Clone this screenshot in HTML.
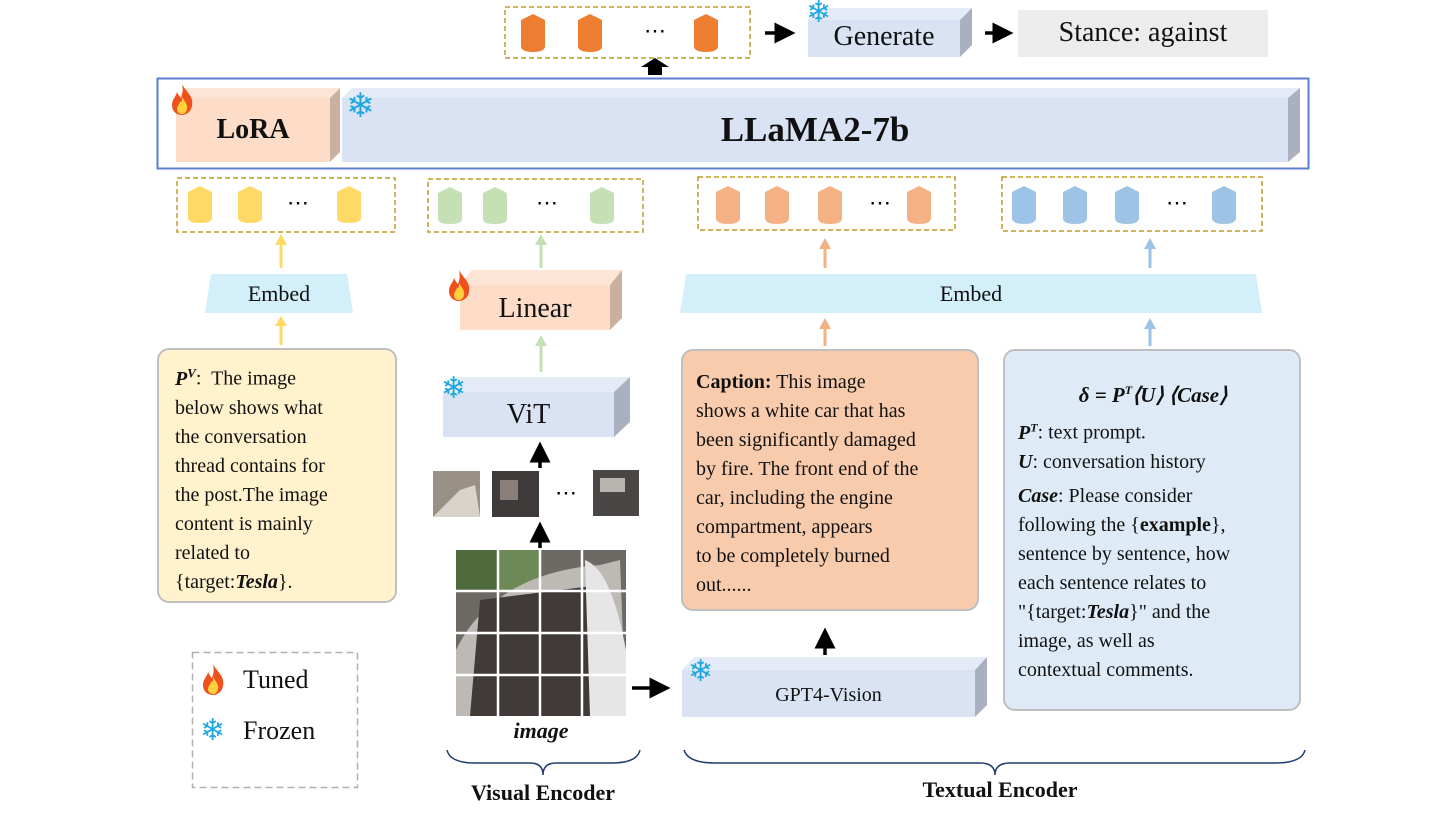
<!DOCTYPE html>
<html><head><meta charset="utf-8"><style>
body{margin:0;background:#fff;}
#c{position:relative;width:1445px;height:813px;overflow:hidden;font-family:"Liberation Serif",serif;color:#111;}
.t{position:absolute;white-space:nowrap;}
.box{position:absolute;box-sizing:border-box;}
.txt{font-size:20px;line-height:29px;}
.sf{position:absolute;color:#1fa8e0;font-size:30px;line-height:30px;font-family:"DejaVu Sans",sans-serif;font-weight:bold;}
</style></head><body><div id="c">
<svg width="1445" height="813" style="position:absolute;left:0;top:0">
<defs>
<g id="flame"><path d="M10,0 C14,8 22,12 20,22 C19,28 14,31 10,31 C4,31 0,27 0,21 C0,15 4,13 5,8 C7,12 8,13 9,14 C11,9 11,5 10,0Z" fill="#f0501e"/><path d="M10,13 C13,18 16,21 15,25 C14,29 12,30 10,30 C7,30 5,28 5,25 C5,22 8,20 8,17 C9,19 10,19 10,13Z" fill="#ffd23c"/></g>
<marker id="ab" markerWidth="6" markerHeight="6" refX="3" refY="3" orient="auto" markerUnits="strokeWidth"><path d="M0,0 L6,3 L0,6Z" fill="#000"/></marker>
</defs>
<rect x="505" y="7" width="245" height="51" fill="none" stroke="#c09a2a" stroke-width="1.5" stroke-dasharray="5,3"/>
<g fill="#ed7d31">
<path d="M521,20 L533,14 L545,20 V46 Q545,52 533,52 Q521,52 521,46Z"/>
<path d="M578,20 L590,14 L602,20 V46 Q602,52 590,52 Q578,52 578,46Z"/>
<path d="M694,20 L706,14 L718,20 V46 Q718,52 706,52 Q694,52 694,46Z"/>
</g>
<text x="655" y="38" font-size="22" text-anchor="middle" font-family="Liberation Serif">⋯</text>
<line x1="765" y1="33" x2="785" y2="33" stroke="#000" stroke-width="3.5" marker-end="url(#ab)"/>
<line x1="985" y1="33" x2="1003" y2="33" stroke="#000" stroke-width="3.5" marker-end="url(#ab)"/>
<polygon points="808,20 820,8 972,8 960,20" fill="#e4eaf6"/>
<polygon points="960,20 972,8 972,45 960,57" fill="#aab0bf"/>
<rect x="808" y="20" width="152" height="37" fill="#dae3f3"/>
<rect x="1018" y="10" width="250" height="47" fill="#ececec"/>
<path d="M648,75 V67 H641 L655,58 L669,67 H662 V75Z" fill="#000"/>
<rect x="157.5" y="78.5" width="1151" height="90" fill="none" stroke="#5b7fcf" stroke-width="2"/>
<polygon points="176,98 186,88 340,88 330,98" fill="#fde5d6"/>
<polygon points="330,98 340,88 340,152 330,162" fill="#c9b0a0"/>
<rect x="176" y="98" width="154" height="64" fill="#fddcc8"/>
<polygon points="342,98 352,88 1300,88 1288,98" fill="#e4eaf6"/>
<polygon points="1288,98 1300,88 1300,152 1288,162" fill="#aab0bf"/>
<rect x="342" y="98" width="946" height="64" fill="#dae3f3"/>
<g fill="none" stroke="#c09a2a" stroke-width="1.5" stroke-dasharray="5,3">
<rect x="177" y="178" width="218" height="54"/><rect x="428" y="179" width="215" height="53"/>
<rect x="698" y="177" width="257" height="53"/><rect x="1002" y="177" width="260" height="54"/>
</g>
<g fill="#ffd966">
<path d="M188,192 L200,186 L212,192 V218 Q212,223 200,223 Q188,223 188,218Z"/>
<path d="M238,192 L250,186 L262,192 V218 Q262,223 250,223 Q238,223 238,218Z"/>
<path d="M337,192 L349,186 L361,192 V218 Q361,223 349,223 Q337,223 337,218Z"/></g>
<g fill="#c5e0b4">
<path d="M438,193 L450,187 L462,193 V219 Q462,224 450,224 Q438,224 438,219Z"/>
<path d="M483,193 L495,187 L507,193 V219 Q507,224 495,224 Q483,224 483,219Z"/>
<path d="M590,193 L602,187 L614,193 V219 Q614,224 602,224 Q590,224 590,219Z"/></g>
<g fill="#f4b183">
<path d="M716,192 L728,186 L740,192 V218 Q740,224 728,224 Q716,224 716,218Z"/>
<path d="M765,192 L777,186 L789,192 V218 Q789,224 777,224 Q765,224 765,218Z"/>
<path d="M818,192 L830,186 L842,192 V218 Q842,224 830,224 Q818,224 818,218Z"/>
<path d="M907,192 L919,186 L931,192 V218 Q931,224 919,224 Q907,224 907,218Z"/></g>
<g fill="#9dc3e6">
<path d="M1012,192 L1024,186 L1036,192 V218 Q1036,224 1024,224 Q1012,224 1012,218Z"/>
<path d="M1063,192 L1075,186 L1087,192 V218 Q1087,224 1075,224 Q1063,224 1063,218Z"/>
<path d="M1115,192 L1127,186 L1139,192 V218 Q1139,224 1127,224 Q1115,224 1115,218Z"/>
<path d="M1212,192 L1224,186 L1236,192 V218 Q1236,224 1224,224 Q1212,224 1212,218Z"/></g>
<g font-size="22" text-anchor="middle" font-family="Liberation Serif"><text x="298" y="210">⋯</text><text x="547" y="210">⋯</text><text x="880" y="210">⋯</text><text x="1177" y="210">⋯</text></g>
<g stroke-width="3">
<line x1="281" y1="268" x2="281" y2="244" stroke="#ffd966"/><path d="M275,245 L281,234 L287,245Z" fill="#ffd966"/>
<line x1="281" y1="345" x2="281" y2="325" stroke="#ffd966"/><path d="M275,326 L281,316 L287,326Z" fill="#ffd966"/>
<line x1="541" y1="268" x2="541" y2="244" stroke="#c5e0b4"/><path d="M535,245 L541,234 L547,245Z" fill="#c5e0b4"/>
<line x1="541" y1="372" x2="541" y2="345" stroke="#c5e0b4"/><path d="M535,346 L541,335 L547,346Z" fill="#c5e0b4"/>
<line x1="825" y1="268" x2="825" y2="248" stroke="#f4b183"/><path d="M819,249 L825,238 L831,249Z" fill="#f4b183"/>
<line x1="825" y1="346" x2="825" y2="328" stroke="#f4b183"/><path d="M819,329 L825,318 L831,329Z" fill="#f4b183"/>
<line x1="1150" y1="268" x2="1150" y2="248" stroke="#9dc3e6"/><path d="M1144,249 L1150,238 L1156,249Z" fill="#9dc3e6"/>
<line x1="1150" y1="346" x2="1150" y2="328" stroke="#9dc3e6"/><path d="M1144,329 L1150,318 L1156,329Z" fill="#9dc3e6"/>
</g>
<polygon points="211,274 347,274 353,313 205,313" fill="#d3effa"/>
<polygon points="686,274 1256,274 1262,313 680,313" fill="#d3effa"/>
<polygon points="460,285 472,270 622,270 610,285" fill="#fde5d6"/>
<polygon points="610,285 622,270 622,318 610,330" fill="#c9b0a0"/>
<rect x="460" y="285" width="150" height="45" fill="#fddcc8"/>
<polygon points="443,392 458,377 630,377 614,392" fill="#e4eaf6"/>
<polygon points="614,392 630,377 630,422 614,437" fill="#aab0bf"/>
<rect x="443" y="392" width="171" height="45" fill="#dae3f3"/>
<line x1="540" y1="468" x2="540" y2="452" stroke="#000" stroke-width="3.5" marker-end="url(#ab)"/>
<line x1="540" y1="548" x2="540" y2="532" stroke="#000" stroke-width="3.5" marker-end="url(#ab)"/>
<rect x="433" y="471" width="47" height="46" fill="#9a9186"/><path d="M433,517 L460,490 L475,485 L480,517Z" fill="#d8d4cc"/>
<rect x="492" y="471" width="47" height="46" fill="#3f3a3a"/><rect x="500" y="480" width="18" height="20" fill="#8a7e78"/>
<rect x="593" y="470" width="46" height="46" fill="#4a4646"/><rect x="600" y="478" width="25" height="14" fill="#b8b4b0"/>
<text x="566" y="500" font-size="22" text-anchor="middle" font-family="Liberation Serif">⋯</text>
<rect x="456" y="550" width="170" height="166" fill="#6d6a66"/>
<rect x="456" y="550" width="42" height="41" fill="#4f6a3c"/><rect x="498" y="550" width="42" height="41" fill="#6d8a56"/>
<path d="M456,650 C480,600 530,570 600,565 L620,560 L626,716 L456,716Z" fill="#bdbab5"/>
<path d="M480,600 L600,585 L600,716 L470,716Z" fill="#403b38"/>
<path d="M585,560 C610,570 620,620 626,650 L626,716 L590,716Z" fill="#e6e6e6"/>
<g stroke="#fff" stroke-width="2.5"><line x1="498" y1="550" x2="498" y2="716"/><line x1="540" y1="550" x2="540" y2="716"/><line x1="582" y1="550" x2="582" y2="716"/><line x1="456" y1="591" x2="626" y2="591"/><line x1="456" y1="633" x2="626" y2="633"/><line x1="456" y1="675" x2="626" y2="675"/></g>
<line x1="632" y1="688" x2="660" y2="688" stroke="#000" stroke-width="3.5" marker-end="url(#ab)"/>
<line x1="825" y1="655" x2="825" y2="638" stroke="#000" stroke-width="3.5" marker-end="url(#ab)"/>
<polygon points="682,670 694,657 987,657 975,670" fill="#e4eaf6"/>
<polygon points="975,670 987,657 987,705 975,717" fill="#aab0bf"/>
<rect x="682" y="670" width="293" height="47" fill="#dae3f3"/>
<path d="M447,750 Q450,763 475,763 L530,763 Q543,763 543,775 Q543,763 556,763 L612,763 Q637,763 640,750" fill="none" stroke="#1f3b70" stroke-width="1.5"/>
<path d="M684,750 Q688,763 715,763 L980,763 Q995,763 995,775 Q995,763 1010,763 L1275,763 Q1302,763 1305,750" fill="none" stroke="#1f3b70" stroke-width="1.5"/>
<rect x="192.5" y="652.5" width="165" height="135" fill="none" stroke="#b0b0b0" stroke-width="1.5" stroke-dasharray="7,4"/>
<use href="#flame" x="203" y="664"/>
<use href="#flame" x="172" y="84"/>
<use href="#flame" x="449" y="270"/>
</svg>

<div class="sf" style="left:806px;top:-2px">❄</div>
<div class="t" style="left:808px;top:18px;width:152px;text-align:center;font-size:28px;line-height:38px">Generate</div>
<div class="t" style="left:1018px;top:13px;width:250px;text-align:center;font-size:28px;line-height:40px">Stance: against</div>
<div class="t" style="left:176px;top:110px;width:154px;text-align:center;font-size:28px;font-weight:bold;line-height:40px">LoRA</div>
<div class="sf" style="left:346px;top:89px;font-size:34px;line-height:34px">❄</div>
<div class="t" style="left:342px;top:108px;width:946px;text-align:center;font-size:35px;font-weight:bold;line-height:44px">LLaMA2-7b</div>
<div class="t" style="left:205px;top:279px;width:148px;text-align:center;font-size:22px;line-height:30px">Embed</div>
<div class="t" style="left:680px;top:279px;width:582px;text-align:center;font-size:22px;line-height:30px">Embed</div>
<div class="t" style="left:460px;top:290px;width:150px;text-align:center;font-size:28px;line-height:38px">Linear</div>
<div class="sf" style="left:441px;top:374px">❄</div>
<div class="t" style="left:443px;top:396px;width:171px;text-align:center;font-size:28px;line-height:38px">ViT</div>
<div class="t" style="left:456px;top:718px;width:170px;text-align:center;font-size:22px;font-weight:bold;font-style:italic">image</div>
<div class="t" style="left:440px;top:780px;width:206px;text-align:center;font-size:22px;font-weight:bold">Visual Encoder</div>
<div class="t" style="left:880px;top:777px;width:240px;text-align:center;font-size:22px;font-weight:bold">Textual Encoder</div>
<div class="sf" style="left:688px;top:657px">❄</div>
<div class="t" style="left:682px;top:680px;width:293px;text-align:center;font-size:20px;line-height:30px">GPT4-Vision</div>
<div class="t" style="left:243px;top:665px;font-size:26px">Tuned</div>
<div class="sf" style="left:200px;top:716px">❄</div>
<div class="t" style="left:243px;top:716px;font-size:26px">Frozen</div>

<div class="box txt" style="left:157px;top:348px;width:240px;height:255px;background:#fff2cc;border:2px solid #bfbfbf;border-radius:12px;padding:8px 0 0 16px;white-space:nowrap">
<b><i>P<sup style="font-size:13px">V</sup></i></b>:&nbsp; The image<br>below shows what<br>the conversation<br>thread contains for<br>the post.The image<br>content is mainly<br>related to<br>{target:<b><i>Tesla</i></b>}.
</div>
<div class="box txt" style="left:681px;top:349px;width:298px;height:262px;background:#f8cbad;border:2px solid #bfbfbf;border-radius:12px;padding:17px 0 0 13px;white-space:nowrap">
<b>Caption:</b> This image<br>shows a white car that has<br>been significantly damaged<br>by fire. The front end of the<br>car, including the engine<br>compartment, appears<br>to be completely burned<br>out......
</div>
<div class="box txt" style="left:1003px;top:349px;width:298px;height:362px;background:#deebf7;border:2px solid #bfbfbf;border-radius:12px;padding:25px 0 0 13px;white-space:nowrap">
<div style="text-align:center;width:270px;font-weight:bold;font-style:italic;font-size:21px">δ = P<sup style="font-size:12px">T</sup>⟨U⟩ ⟨Case⟩</div>
<div style="margin-top:3px"><b><i>P<sup style="font-size:12px">T</sup></i></b>: text prompt.<br><b><i>U</i></b>: conversation history</div>
<div style="margin-top:5px"><b><i>Case</i></b>: Please consider<br>following the {<b>example</b>},<br>sentence by sentence, how<br>each sentence relates to<br>"{target:<b><i>Tesla</i></b>}" and the<br>image, as well as<br>contextual comments.</div>
</div>
</div></body></html>
